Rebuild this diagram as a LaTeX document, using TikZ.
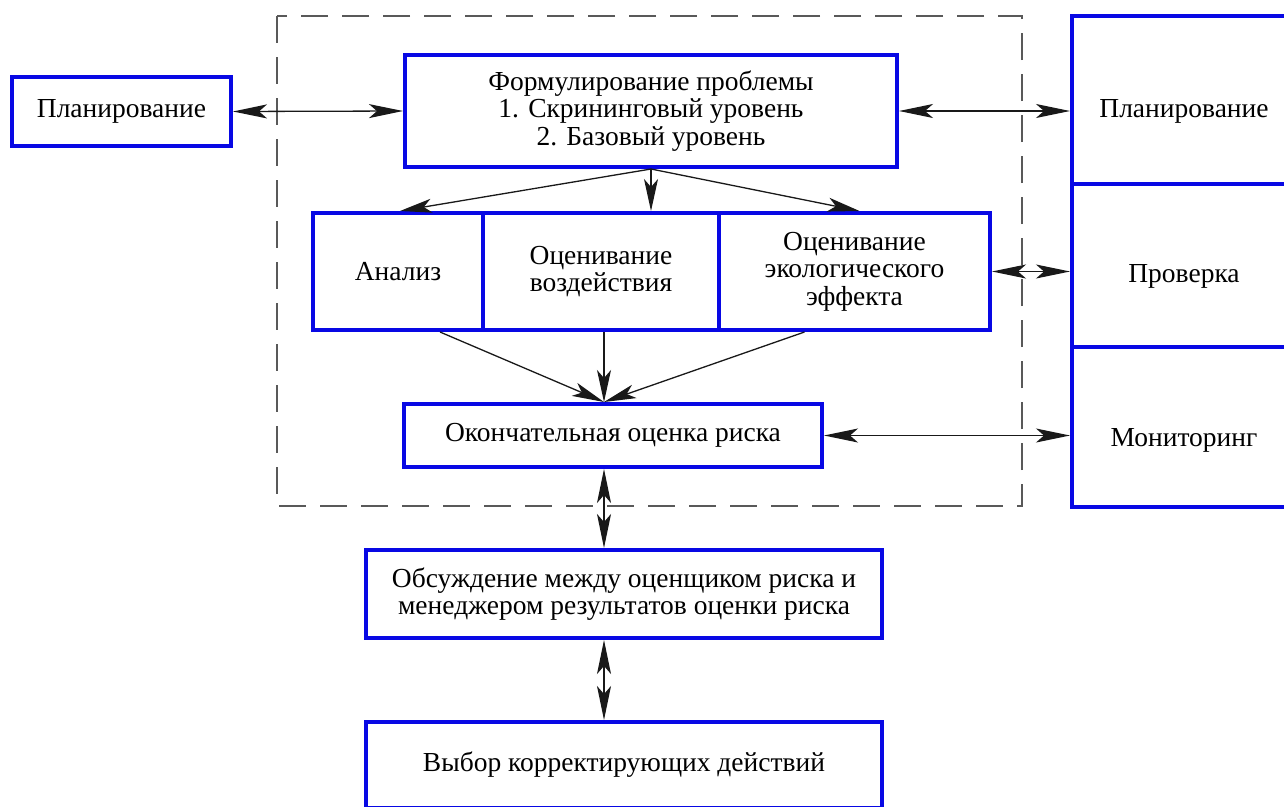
\documentclass[tikz,border=0pt]{standalone}
\usepackage{fontspec}
\setmainfont{Liberation Serif}
\usetikzlibrary{arrows.meta,calc}
\definecolor{boxblue}{RGB}{8,8,228}
\definecolor{linegray}{RGB}{25,25,25}
\tikzset{
  txt/.style={align=center,inner sep=0pt,font=\rmfamily\fontsize{27.5}{27.5}\selectfont},
  box/.style={txt,draw=boxblue,line width=4pt},
  arr/.style={draw=linegray,line width=1.3pt,-{Stealth[length=32pt,width=14pt,inset=8pt]}},
  dbl/.style={draw=linegray,line width=1.3pt,{Stealth[length=34pt,width=14pt,inset=8pt]}-{Stealth[length=34pt,width=14pt,inset=8pt]}},
  frame/.style={draw=black!65,line width=1.3pt,dash pattern=on 27pt off 14pt}
}
\begin{document}
\begin{tikzpicture}[x=1pt,y=-1pt]
\useasboundingbox (0,0) rectangle (1284,806);
\draw[frame] (277,16) rectangle (1022,506);

\node[box,minimum width=219pt,minimum height=69pt] (planL) at (121.5,111.5) {Планирование};
\node[box,minimum width=492pt,minimum height=112pt] (top) at (651,111)
  {Формулирование проблемы\\1. Скрининговый уровень\\2. Базовый уровень};
\node[box,minimum width=170pt,minimum height=117pt] (anal) at (398,271.5) {Анализ};
\node[box,minimum width=236pt,minimum height=117pt] (evalI) at (601,271.5) {Оценивание\\воздействия};
\node[box,minimum width=271pt,minimum height=117pt] (evalE) at (854.5,271.5)
  {Оценивание\\экологического\\эффекта};
\node[box,minimum width=418pt,minimum height=63pt] (final) at (613,435.5) {Окончательная оценка риска};
\node[box,minimum width=516pt,minimum height=88pt] (disc) at (624,594)
  {Обсуждение между оценщиком риска и\\менеджером результатов оценки риска};
\node[box,minimum width=516pt,minimum height=86pt] (choice) at (624,765) {Выбор корректирующих действий};

% right column
\node[box,minimum width=224pt,minimum height=168pt] (planR) at (1184,100) {};
\node[box,minimum width=224pt,minimum height=163pt] (check) at (1184,265.5) {};
\node[box,minimum width=224pt,minimum height=160pt] (monit) at (1184,427) {};
\node[txt] (planRt) at (1184,111) {Планирование};
\node[txt] (checkt) at (1184,276) {Проверка};
\node[txt] (monitt) at (1184,440) {Мониторинг};

\coordinate (ax) at (604,0);
\draw[dbl] (planL.east) -- (top.west);
\draw[dbl] (top.east) -- (top.east -| planR.west);
\draw[arr] (top.south) -- ($(anal.north)+(2,0)$);
\draw[arr] (top.south) -- (top.south |- evalI.north);
\draw[arr] (top.south) -- ($(evalE.north)+(5,0)$);
\draw[dbl] (evalE.east) -- (evalE.east -| check.west);
\draw[arr] ($(anal.south)+(42,0)$) -- (final.north -| ax);
\draw[arr] (evalI.south -| ax) -- (final.north -| ax);
\draw[arr] ($(evalE.south)+(-50,0)$) -- (final.north -| ax);
\draw[dbl] (final.east) -- (final.east -| monit.west);
\draw[dbl] (final.south -| ax) -- (disc.north -| ax);
\draw[dbl] (disc.south -| ax) -- (choice.north -| ax);
\end{tikzpicture}
\end{document}
